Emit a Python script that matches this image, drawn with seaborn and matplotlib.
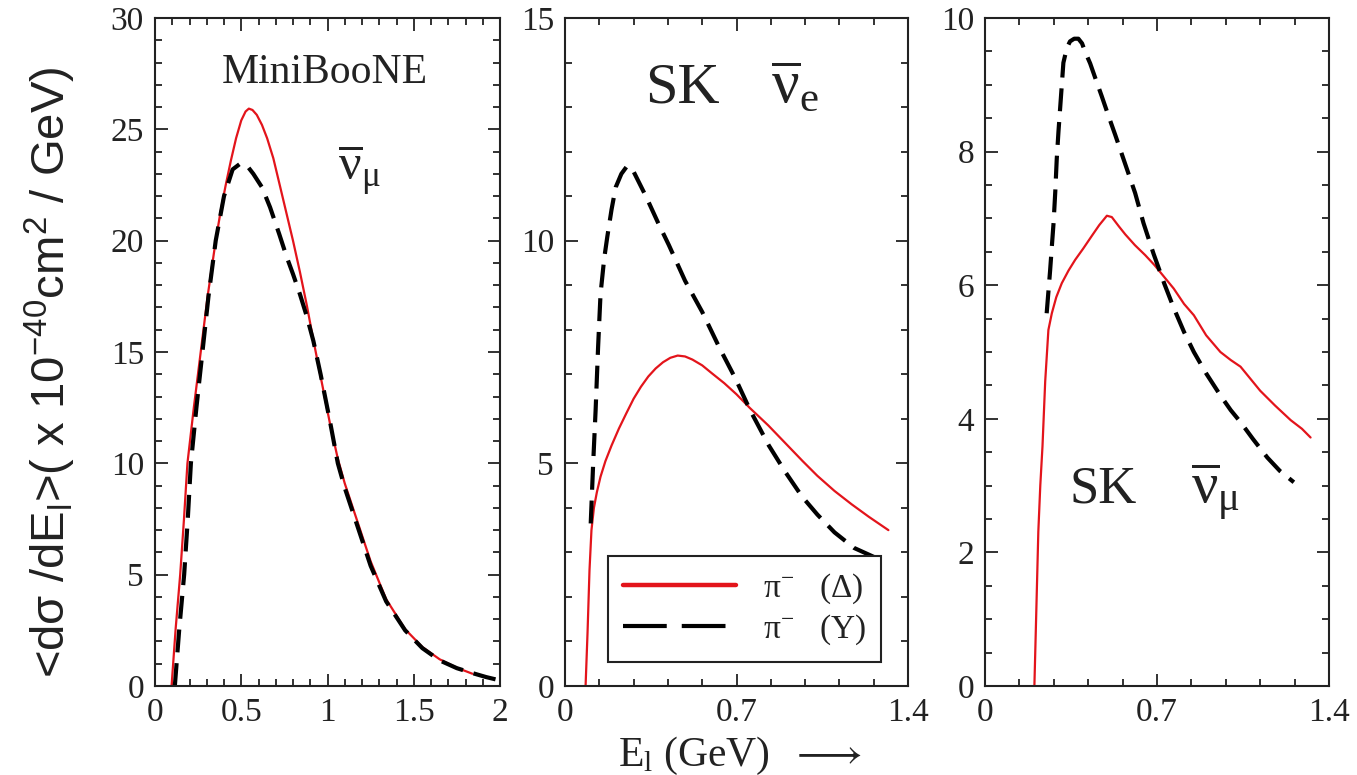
import numpy as np
import pandas as pd
import matplotlib
matplotlib.use("Agg")
import matplotlib.pyplot as plt
from matplotlib.lines import Line2D
from matplotlib.ticker import MultipleLocator, FuncFormatter
import seaborn as sns

# ---------------- data ----------------
# Panel 1: MiniBooNE anti-nu_mu
mb_delta_x = [0.096, 0.108, 0.12, 0.133, 0.146, 0.168, 0.188, 0.225, 0.265, 0.305, 0.352, 0.38, 0.41,
              0.44, 0.47, 0.50, 0.525, 0.544, 0.565, 0.59, 0.62, 0.65, 0.686, 0.72, 0.76, 0.80,
              0.84, 0.88, 0.918, 0.96, 1.014, 1.06, 1.10, 1.13, 1.19, 1.25, 1.34, 1.45, 1.55,
              1.65, 1.75, 1.84]
mb_delta_y = [0.0, 1.3, 2.6, 3.8, 5.0, 7.5, 10.0, 12.5, 15.0, 17.5, 20.0, 21.3, 22.5,
              23.6, 24.6, 25.4, 25.8, 25.93, 25.87, 25.65, 25.2, 24.6, 23.7, 22.6, 21.3, 20.0,
              18.6, 17.1, 15.54, 13.9, 11.8, 10.2, 9.1, 8.4, 7.0, 5.6, 3.9, 2.55, 1.75,
              1.2, 0.82, 0.55]
mb_y_x = [0.115, 0.128, 0.14, 0.155, 0.169, 0.19, 0.208, 0.24, 0.275, 0.31, 0.352, 0.40, 0.45,
          0.496, 0.54, 0.57, 0.62, 0.667, 0.72, 0.763, 0.80, 0.84, 0.88, 0.918, 0.96, 1.014,
          1.06, 1.10, 1.13, 1.19, 1.25, 1.34, 1.45, 1.55, 1.65, 1.75, 1.84, 1.92, 2.0]
mb_y_y = [0.0, 1.3, 2.5, 3.8, 5.0, 7.5, 10.0, 12.5, 15.0, 17.5, 20.0, 22.0, 23.2,
          23.47, 23.3, 23.0, 22.4, 21.5, 20.3, 19.28, 18.5, 17.6, 16.6, 15.5, 14.0, 11.9,
          10.0, 8.9, 8.2, 6.8, 5.4, 3.8, 2.5, 1.7, 1.15, 0.8, 0.58, 0.4, 0.25]

# Panel 2: SK anti-nu_e
ske_delta_x = [0.084, 0.092, 0.10, 0.108, 0.118, 0.13, 0.145, 0.165, 0.19, 0.22, 0.25, 0.28, 0.31,
               0.34, 0.37, 0.40, 0.43, 0.46, 0.49, 0.52, 0.56, 0.60, 0.65, 0.70, 0.755, 0.83, 0.90,
               0.97, 1.03, 1.10, 1.17, 1.24, 1.32]
ske_delta_y = [0.0, 1.2, 2.6, 3.5, 4.0, 4.35, 4.7, 5.05, 5.4, 5.78, 6.12, 6.45, 6.72,
               6.95, 7.13, 7.27, 7.37, 7.42, 7.4, 7.33, 7.2, 7.02, 6.8, 6.55, 6.24, 5.85, 5.45,
               5.05, 4.72, 4.38, 4.08, 3.8, 3.5]
ske_y_x = [0.105, 0.115, 0.125, 0.135, 0.145, 0.16, 0.173, 0.19, 0.207, 0.23, 0.254, 0.28, 0.33,
           0.38, 0.424, 0.49, 0.56, 0.63, 0.696, 0.755, 0.832, 0.90, 0.968, 1.03, 1.10, 1.18, 1.28]
ske_y_y = [3.65, 5.0, 6.2, 7.6, 8.8, 9.6, 10.1, 10.7, 11.2, 11.5, 11.68, 11.55, 11.0,
           10.4, 9.9, 9.1, 8.4, 7.6, 6.9, 6.2, 5.4, 4.8, 4.25, 3.85, 3.45, 3.1, 2.85]

# Panel 3: SK anti-nu_mu
skm_delta_x = [0.201, 0.209, 0.217, 0.225, 0.234, 0.245, 0.258, 0.272, 0.29, 0.3125, 0.34, 0.367,
               0.40, 0.435, 0.465, 0.496, 0.516, 0.545, 0.571, 0.61, 0.652, 0.69, 0.73, 0.768,
               0.81, 0.85, 0.90, 0.958, 1.00, 1.04, 1.08, 1.12, 1.18, 1.244, 1.29, 1.325]
skm_delta_y = [0.0, 1.15, 2.31, 3.0, 3.59, 4.56, 5.33, 5.58, 5.82, 6.03, 6.22, 6.38,
               6.55, 6.74, 6.9, 7.04, 7.02, 6.88, 6.76, 6.6, 6.45, 6.3, 6.12, 5.95,
               5.72, 5.55, 5.25, 5.0, 4.88, 4.78, 4.6, 4.42, 4.2, 3.98, 3.85, 3.72]
skm_y_x = [0.251, 0.258, 0.265, 0.272, 0.279, 0.286, 0.292, 0.299, 0.306, 0.313, 0.319, 0.333,
           0.346, 0.363, 0.38, 0.395, 0.408, 0.428, 0.448, 0.475, 0.503, 0.53, 0.557, 0.584,
           0.611, 0.645, 0.686, 0.73, 0.768, 0.81, 0.85, 0.90, 0.958, 1.00, 1.04, 1.09, 1.149,
           1.20, 1.257]
skm_y_y = [5.58, 5.9, 6.22, 6.58, 6.93, 7.4, 7.89, 8.3, 8.66, 9.02, 9.33, 9.55,
           9.65, 9.69, 9.69, 9.62, 9.49, 9.32, 9.11, 8.83, 8.53, 8.25, 7.96, 7.67,
           7.38, 6.93, 6.47, 6.02, 5.66, 5.3, 5.0, 4.68, 4.35, 4.13, 3.95, 3.7, 3.42,
           3.22, 3.05]

legend_labels = [r"$\pi^{-}$   ($\Delta$)", r"$\pi^{-}$   (Y)"]

# ---------------- style ----------------
sns.set_style("ticks")
plt.rcParams["font.family"] = ["Liberation Serif", "DejaVu Serif"]
plt.rcParams["mathtext.fontset"] = "stix"
plt.rcParams["mathtext.default"] = "regular"

RED = "#e3141b"
BLACK = "#000000"
RED_LW = 1.6
BLK_LW = 3.0
DASH = (0, (5.5, 2.6))
TXT = "#222222"

W, H = 1357, 775
fig = plt.figure(figsize=(W / 100, H / 100), dpi=100)

def frac_rect(l, r, t, b):
    return [l / W, 1 - b / H, (r - l) / W, (b - t) / H]

ax1 = fig.add_axes(frac_rect(155, 500, 18, 686))
ax2 = fig.add_axes(frac_rect(565, 908, 18, 686))
ax3 = fig.add_axes(frac_rect(985, 1329, 18, 686))

def draw(ax, xd, yd, xy, yy):
    sns.lineplot(x=xd, y=yd, ax=ax, color=RED, lw=RED_LW, estimator=None, sort=False)
    sns.lineplot(x=xy, y=yy, ax=ax, color=BLACK, lw=BLK_LW, estimator=None, sort=False,
                 linestyle=DASH)

draw(ax1, mb_delta_x, mb_delta_y, mb_y_x, mb_y_y)
draw(ax2, ske_delta_x, ske_delta_y, ske_y_x, ske_y_y)
draw(ax3, skm_delta_x, skm_delta_y, skm_y_x, skm_y_y)

def fmt(v, pos):
    return f"{v:.2f}".rstrip("0").rstrip(".")

def style(ax, xlim, ylim, xmaj, xmin, ymaj, ymin):
    ax.set_xlim(*xlim)
    ax.set_ylim(*ylim)
    ax.xaxis.set_major_locator(MultipleLocator(xmaj))
    ax.xaxis.set_minor_locator(MultipleLocator(xmin))
    ax.yaxis.set_major_locator(MultipleLocator(ymaj))
    ax.yaxis.set_minor_locator(MultipleLocator(ymin))
    ax.xaxis.set_major_formatter(FuncFormatter(fmt))
    ax.yaxis.set_major_formatter(FuncFormatter(fmt))
    ax.set_xlabel("")
    ax.set_ylabel("")
    ax.tick_params(which="both", direction="in", top=True, right=True, colors=TXT,
                   width=1.3, labelsize=24)
    ax.tick_params(which="major", length=9, pad=8)
    ax.tick_params(which="minor", length=5)
    for s in ax.spines.values():
        s.set_visible(True)
        s.set_linewidth(1.5)
        s.set_color(TXT)

style(ax1, (0, 2), (0, 30), 0.5, 0.1, 5, 1)
style(ax2, (0, 1.4), (0, 15), 0.7, 0.14, 5, 1)
style(ax3, (0, 1.4), (0, 10), 0.7, 0.14, 2, 0.5)

# panel annotations
ax1.text(0.194, 0.903, "MiniBooNE", transform=ax1.transAxes, fontsize=30, va="baseline",
         ha="left", color=TXT)
ax1.text(0.53, 0.757, r"$\overline{\nu}_{\mu}$", transform=ax1.transAxes, fontsize=36,
         va="baseline", ha="left", color=TXT)

ax2.text(0.233, 0.874, "SK", transform=ax2.transAxes, fontsize=42, va="baseline",
         ha="left", color=TXT)
ax2.text(0.60, 0.874, r"$\overline{\nu}_{e}$", transform=ax2.transAxes, fontsize=44,
         va="baseline", ha="left", color=TXT)

ax3.text(0.246, 0.274, "SK", transform=ax3.transAxes, fontsize=38, va="baseline",
         ha="left", color=TXT)
ax3.text(0.60, 0.274, r"$\overline{\nu}_{\mu}$", transform=ax3.transAxes, fontsize=42,
         va="baseline", ha="left", color=TXT)

# legend
handles = [Line2D([], [], color=RED, lw=RED_LW * 2.0),
           Line2D([], [], color=BLACK, lw=BLK_LW, linestyle=(0, (10.5, 3.6)))]
leg = ax2.legend(handles, legend_labels, loc="lower left", bbox_to_anchor=(0.125, 0.036),
                 borderaxespad=0, fontsize=24, handlelength=3.4, handletextpad=0.8,
                 labelspacing=0.2, borderpad=0.45, frameon=True, fancybox=False)
leg.get_frame().set_edgecolor(TXT)
leg.get_frame().set_linewidth(1.5)
leg.get_frame().set_alpha(1)
for t in leg.get_texts():
    t.set_color(TXT)

# axis labels
fig.text(50 / W, 1 - 372 / H,
         r"<d$\sigma$ /dE$_{l}$>( x 10$^{-40}$cm$^{2}$ / GeV)",
         rotation=90, ha="center", va="center", fontsize=34,
         family=["Liberation Sans", "DejaVu Sans"], color=TXT)
fig.text(740 / W, 1 - 766 / H, r"E$_{l}$ (GeV)  $\longrightarrow$", ha="center",
         va="baseline", fontsize=30, color=TXT)

fig.savefig("out.png", dpi=100, facecolor="white")
